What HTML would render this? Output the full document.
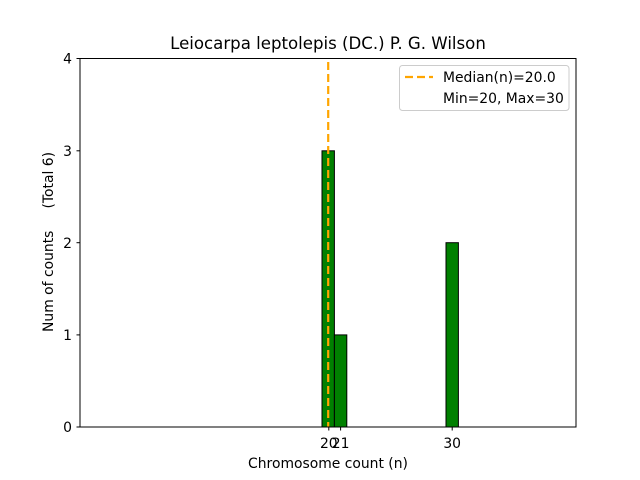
<!DOCTYPE html>
<html><head><style>body{margin:0;background:#fff}svg{display:block}text{font-family:"DejaVu Sans","Liberation Sans",sans-serif;fill:#000}</style></head>
<body>
<svg width="640" height="480" viewBox="0 0 640 480" xmlns="http://www.w3.org/2000/svg">
<rect width="640" height="480" fill="#fff"/>
<line x1="80" y1="427" x2="495" y2="427" stroke="#bbb" stroke-width="1"/>
<rect x="322" y="150.8" width="12.4" height="276.2" fill="#008000" stroke="#000" stroke-width="1"/>
<rect x="334.4" y="334.9" width="12.4" height="92.1" fill="#008000" stroke="#000" stroke-width="1"/>
<rect x="446" y="242.7" width="12.4" height="184.3" fill="#008000" stroke="#000" stroke-width="1"/>
<line x1="328.2" y1="62" x2="328.2" y2="427" stroke="#ffa500" stroke-width="2.2" stroke-dasharray="8,4"/>
<rect x="80" y="58.5" width="496" height="368.5" fill="none" stroke="#000" stroke-width="1"/>
<g stroke="#000" stroke-width="1">
<line x1="76.5" y1="427" x2="80" y2="427"/><line x1="76.5" y1="334.9" x2="80" y2="334.9"/>
<line x1="76.5" y1="242.7" x2="80" y2="242.7"/><line x1="76.5" y1="150.8" x2="80" y2="150.8"/>
<line x1="76.5" y1="58.5" x2="80" y2="58.5"/>
<line x1="328.8" y1="427" x2="328.8" y2="430.5"/><line x1="340.6" y1="427" x2="340.6" y2="430.5"/>
<line x1="452.2" y1="427" x2="452.2" y2="430.5"/>
</g>
<g font-size="13.9" text-anchor="end">
<text x="72" y="432">0</text><text x="72" y="340">1</text><text x="72" y="248">2</text>
<text x="72" y="156">3</text><text x="72" y="63.5">4</text>
</g>
<g font-size="13.9" text-anchor="middle">
<text x="328.8" y="448">20</text><text x="340.6" y="448">21</text><text x="452.2" y="448">30</text>
</g>
<text x="328" y="468" font-size="13.9" text-anchor="middle">Chromosome count (n)</text>
<text transform="translate(53,242) rotate(-90)" font-size="13.9" text-anchor="middle" xml:space="preserve" style="white-space:pre">Num of counts     (Total 6)</text>
<text x="328" y="49" font-size="16.6" text-anchor="middle">Leiocarpa leptolepis (DC.) P. G. Wilson</text>
<rect x="399.5" y="65.5" width="169.5" height="45" rx="3" fill="#fff" fill-opacity="0.8" stroke="#ccc"/>
<line x1="405" y1="77" x2="433" y2="77" stroke="#ffa500" stroke-width="2.2" stroke-dasharray="8,4"/>
<text x="443" y="82" font-size="13.9">Median(n)=20.0</text>
<text x="443" y="103" font-size="13.9">Min=20, Max=30</text>
</svg>
</body></html>
